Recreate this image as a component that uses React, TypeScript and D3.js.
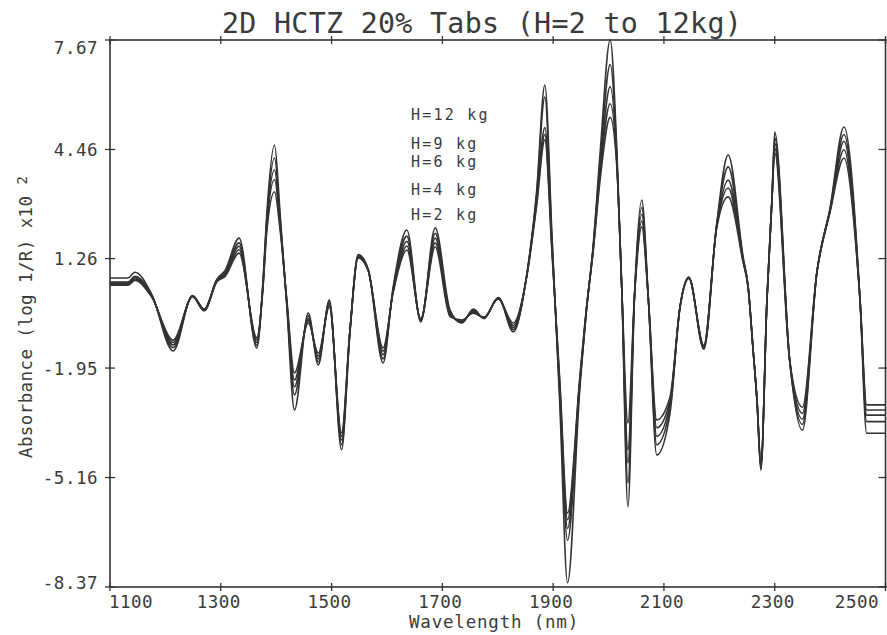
import React from "react";
import * as d3 from "d3";

const wavelengths = [1100, 1132, 1145, 1175, 1214, 1249, 1270, 1293, 1308, 1333, 1365, 1376, 1383, 1397, 1407, 1419, 1433, 1458, 1476, 1496, 1518, 1533, 1548, 1566, 1593, 1611, 1636, 1661, 1687, 1714, 1735, 1756, 1775, 1801, 1828, 1852, 1870, 1885, 1898, 1912, 1926, 1948, 1960, 1972, 1985, 2003, 2015, 2024, 2035, 2047, 2060, 2072, 2087, 2111, 2129, 2145, 2172, 2195, 2216, 2243, 2252, 2261, 2268, 2275, 2286, 2295, 2300, 2327, 2350, 2376, 2400, 2425, 2454, 2466, 2500];

const h12 = [0.69, 0.69, 0.86, 0.22, -1.45, 0.18, -0.22, 0.66, 0.92, 1.86, -1.36, 0.55, 2.55, 4.59, 2.6, -0.1, -3.18, -0.34, -1.86, 0.05, -4.35, -0.95, 1.38, 0.96, -1.8, 0.4, 2.1, -0.6, 2.16, -0.26, -0.63, -0.22, -0.5, 0.12, -0.89, 0.75, 3.2, 6.35, 1.9, -3.0, -8.25, -2.6, -0.3, 1.6, 4.4, 7.67, 4.44, 0.34, -6.02, 0.2, 2.98, 0.05, -4.5, -3.27, -0.16, 0.72, -1.4, 2.25, 4.3, 1.3, 0.45, -1.42, -2.89, -4.95, 0.05, 2.98, 4.97, -1.72, -3.77, 0.84, 2.75, 5.12, 0.05, -3.86, -3.86];
const h9 = [0.57, 0.57, 0.74, 0.2, -1.35, 0.17, -0.24, 0.64, 0.86, 1.72, -1.28, 0.5, 2.4, 4.21, 2.45, -0.05, -2.74, -0.42, -1.77, 0.0, -4.2, -0.92, 1.35, 0.94, -1.68, 0.36, 1.92, -0.57, 2.0, -0.3, -0.61, -0.25, -0.49, 0.11, -0.82, 0.73, 3.1, 6.0, 1.75, -2.8, -7.0, -2.45, -0.27, 1.55, 4.15, 6.95, 4.3, 0.34, -5.32, 0.2, 2.76, 0.05, -4.2, -3.12, -0.16, 0.71, -1.37, 2.22, 3.95, 1.26, 0.44, -1.42, -2.89, -4.9, 0.05, 2.98, 4.8, -1.72, -3.6, 0.84, 2.72, 4.9, 0.05, -3.52, -3.52];
const h6 = [0.54, 0.54, 0.7, 0.18, -1.27, 0.16, -0.25, 0.62, 0.81, 1.62, -1.2, 0.45, 2.3, 3.86, 2.35, 0.0, -2.5, -0.5, -1.68, -0.05, -4.06, -0.9, 1.32, 0.93, -1.56, 0.32, 1.77, -0.55, 1.86, -0.35, -0.59, -0.28, -0.48, 0.1, -0.76, 0.72, 2.98, 5.1, 1.6, -2.6, -6.65, -2.38, -0.25, 1.51, 3.95, 6.3, 4.15, 0.34, -4.73, 0.2, 2.56, 0.05, -3.95, -3.0, -0.16, 0.7, -1.34, 2.19, 3.56, 1.22, 0.43, -1.42, -2.89, -4.85, 0.05, 2.98, 4.65, -1.72, -3.45, 0.84, 2.69, 4.7, 0.05, -3.33, -3.33];
const h4 = [0.51, 0.51, 0.66, 0.16, -1.2, 0.15, -0.26, 0.6, 0.77, 1.52, -1.12, 0.4, 2.2, 3.58, 2.25, 0.05, -2.3, -0.56, -1.6, -0.1, -3.95, -0.88, 1.3, 0.92, -1.46, 0.28, 1.63, -0.52, 1.72, -0.4, -0.57, -0.31, -0.47, 0.09, -0.7, 0.71, 2.88, 4.9, 1.5, -2.45, -6.4, -2.32, -0.23, 1.47, 3.8, 5.8, 4.05, 0.34, -4.35, 0.2, 2.36, 0.05, -3.7, -2.9, -0.16, 0.69, -1.31, 2.16, 3.33, 1.18, 0.42, -1.42, -2.89, -4.8, 0.05, 2.98, 4.5, -1.72, -3.28, 0.84, 2.66, 4.45, 0.05, -3.18, -3.18];
const h2 = [0.48, 0.48, 0.62, 0.14, -1.13, 0.14, -0.27, 0.58, 0.74, 1.42, -1.06, 0.35, 2.05, 3.22, 2.1, 0.1, -2.09, -0.63, -1.51, -0.16, -3.85, -0.86, 1.28, 0.91, -1.36, 0.25, 1.51, -0.5, 1.6, -0.45, -0.54, -0.34, -0.46, 0.08, -0.63, 0.7, 2.78, 4.74, 1.4, -2.3, -6.2, -2.25, -0.2, 1.43, 3.6, 5.4, 3.95, 0.34, -3.56, 0.2, 2.19, 0.05, -3.47, -2.8, -0.16, 0.68, -1.28, 2.13, 3.07, 1.14, 0.41, -1.42, -2.89, -4.75, 0.05, 2.98, 4.36, -1.72, -3.1, 0.84, 2.63, 4.21, 0.05, -3.03, -3.03];

const seriesList = [h12, h9, h6, h4, h2];
const legendLabels = ["H=12 kg", "H=9 kg", "H=6 kg", "H=4 kg", "H=2 kg"];
const xTicks = [1100, 1300, 1500, 1700, 1900, 2100, 2300, 2500];
const yTicks = [7.67, 4.46, 1.26, -1.95, -5.16, -8.37];
const titleText = "2D HCTZ 20% Tabs (H=2 to 12kg)";
const xLabel = "Wavelength (nm)";
const yLabel = "Absorbance (log 1/R) x10";
const yLabelSup = "2";

export default function App() {
  const W = 887, H = 635;
  const left = 110, right = 885.5, top = 40, bottom = 587;
  const x = d3.scaleLinear().domain([1100, 2500]).range([left, right]);
  const y = d3.scaleLinear().domain([-8.37, 7.67]).range([bottom, top]);
  const line = d3
    .line<number>()
    .x((_, i) => x(wavelengths[i]))
    .y((d) => y(d))
    .curve(d3.curveMonotoneX);
  const font = "'DejaVu Sans Mono', monospace";
  const ink = "#3a3a3a";
  const legendBase = [119.5, 148.5, 167, 195, 220];

  return (
    <svg width={W} height={H} style={{ position: "absolute", left: 0, top: 0, background: "#fff" }}>
      <rect x={0} y={0} width={W} height={H} fill="#fff" />
      {/* curves */}
      <g fill="none" stroke="#333" strokeWidth={1.6} strokeLinejoin="round">
        {seriesList.map((s, i) => (
          <path key={i} d={line(s) || ""} />
        ))}
      </g>
      {/* frame */}
      <rect x={left} y={top} width={right - left} height={bottom - top} fill="none" stroke="#333" strokeWidth={1.6} />
      {/* y ticks */}
      {yTicks.map((t, i) => (
        <g key={"y" + i}>
          <line x1={left - 5} x2={left + 5} y1={y(t)} y2={y(t)} stroke="#333" strokeWidth={1.3} />
          <line x1={right - 7} x2={right + 2} y1={y(t)} y2={y(t)} stroke="#333" strokeWidth={1.3} />
          <text
            x={98}
            y={i === 0 ? y(t) + 14 : i === yTicks.length - 1 ? y(t) + 2 : y(t) + 6.5}
            textAnchor="end"
            fontFamily={font}
            fontSize={17.5}
            letterSpacing={0.5}
            fill={ink}
          >
            {t.toFixed(2)}
          </text>
        </g>
      ))}
      {/* x ticks */}
      {xTicks.map((t, i) => (
        <g key={"x" + i}>
          <line x1={x(t)} x2={x(t)} y1={top - 4} y2={top + 4} stroke="#333" strokeWidth={1.3} />
          <line x1={x(t)} x2={x(t)} y1={bottom - 4} y2={bottom + 4} stroke="#333" strokeWidth={1.3} />
          <text
            x={i === 0 ? left - 1 : i === xTicks.length - 1 ? 879 : x(t) - 2}
            y={607.5}
            textAnchor={i === 0 ? "start" : i === xTicks.length - 1 ? "end" : "middle"}
            fontFamily={font}
            fontSize={17.5}
            letterSpacing={0.5}
            fill={ink}
          >
            {t}
          </text>
        </g>
      ))}
      {/* title */}
      <text x={222} y={33} fontFamily={font} fontSize={28.3} letterSpacing={0.3} fill={ink}>
        {titleText}
      </text>
      {/* x label */}
      <text x={494} y={628} textAnchor="middle" fontFamily={font} fontSize={17.5} letterSpacing={0.8} fill={ink}>
        {xLabel}
      </text>
      {/* y label */}
      <text transform="translate(31.5,458) rotate(-90)" fontFamily={font} fontSize={17.5} letterSpacing={0.4} fill={ink}>
        {yLabel + " "}
        <tspan fontSize={14} dy={-5}>{yLabelSup}</tspan>
      </text>
      {/* legend */}
      {legendLabels.map((l, i) => (
        <text key={"l" + i} x={411} y={legendBase[i]} fontFamily={font} fontSize={15} letterSpacing={2.2} fill={ink}>
          {l}
        </text>
      ))}
    </svg>
  );
}
